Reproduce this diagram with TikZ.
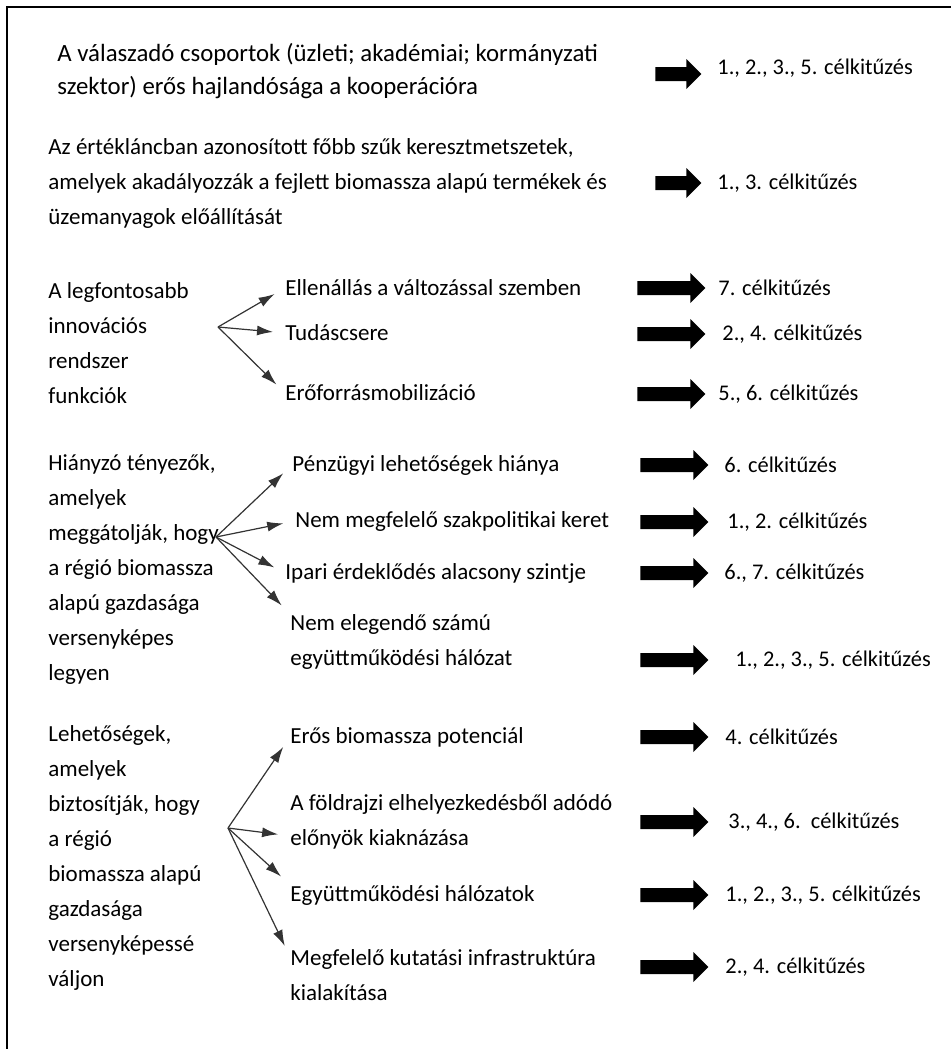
\documentclass[tikz,border=0pt]{standalone}
\usepackage{fontspec}
\setmainfont{Carlito}
\usetikzlibrary{arrows.meta,positioning,shapes.arrows,calc}

\begin{document}
\begin{tikzpicture}[
  x=0.5pt, y=-0.5pt,
  every node/.style={font=\fontsize{11.5}{17.5}\selectfont, inner sep=0pt},
  item/.style={anchor=west, align=left},
  goal/.style={anchor=west, font=\fontsize{11.2}{17}\selectfont},
  bigarrow/.style={single arrow, fill=black, draw=none, anchor=west,
    minimum height=34pt, minimum width=0pt, inner ysep=3.3pt, inner xsep=0pt,
    single arrow head extend=4pt, single arrow head indent=0pt,
    text height=0pt, text depth=0pt},
  branch/.style={-{Latex[length=8pt,width=5pt]}, line width=0.6pt, draw=black!80, shorten >=6pt}
]
  \useasboundingbox (0,0) rectangle (951,1049);
  \draw[line width=1pt] (7,1049) -- (7,7) -- (951,7);

  % first two statements
  \node[item, font=\fontsize{12.4}{16.5}\selectfont] (q1) at (57,71)
    {A válaszadó csoportok (üzleti; akadémiai; kormányzati\\szektor) erős hajlandósága a kooperációra};
  \node[bigarrow, minimum height=23pt] (a1) at (655,74) {};
  \node[goal] (g1) at (717,68) {1., 2., 3., 5. célkitűzés};

  \node[item] (q2) at (48,183)
    {Az értékláncban azonosított főbb szűk keresztmetszetek,\\amelyek akadályozzák a fejlett biomassza alapú termékek és\\üzemanyagok előállítását};
  \node[bigarrow, minimum height=23pt] (a2) at (655,183) {};
  \node[goal] (g2) at (717,183) {1., 3. célkitűzés};

  % innovation system functions
  \node[item] (f3) at (48,343) {A legfontosabb\\innovációs\\rendszer\\funkciók};
  \coordinate (b3) at (218,327);
  \node[item] (e31) at (285,288) {Ellenállás a változással szemben};
  \node[item] (e32) at (285,333) {Tudáscsere};
  \node[item] (e33) at (285,393) {Erőforrásmobilizáció};
  \node[bigarrow] (a31) at (637,288) {};
  \node[bigarrow] (a32) at (637,334) {};
  \node[bigarrow] (a33) at (637,394) {};
  \node[goal] (g31) at (718,288) {7. célkitűzés};
  \node[goal] (g32) at (722,334) {2., 4. célkitűzés};
  \node[goal] (g33) at (718,394) {5., 6. célkitűzés};
  \draw[branch] (b3) -- (e31.west);
  \draw[branch] (b3) -- (e32.west);
  \draw[branch] (b3) -- (e33.west);

  % missing factors
  \node[item] (f4) at (48,569)
    {Hiányzó tényezők,\\amelyek\\meggátolják, hogy\\a régió biomassza\\alapú gazdasága\\versenyképes\\legyen};
  \coordinate (b4) at (216,537);
  \node[item] (e41) at (292,465) {Pénzügyi lehetőségek hiánya};
  \node[item] (e42) at (295,521) {Nem megfelelő szakpolitikai keret};
  \node[item] (e43) at (285,573) {Ipari érdeklődés alacsony szintje};
  \node[item] (e44) at (290,642) {Nem elegendő számú\\együttműködési hálózat};
  \node[bigarrow] (a41) at (640,465) {};
  \node[bigarrow] (a42) at (640,522) {};
  \node[bigarrow] (a43) at (640,573) {};
  \node[bigarrow] (a44) at (640,660) {};
  \node[goal] (g41) at (724,465) {6. célkitűzés};
  \node[goal] (g42) at (727,522) {1., 2. célkitűzés};
  \node[goal] (g43) at (724,573) {6., 7. célkitűzés};
  \node[goal] (g44) at (735,660) {1., 2., 3., 5. célkitűzés};
  \draw[branch] (b4) -- (e41.west);
  \draw[branch] (b4) -- (e42.west);
  \draw[branch] (b4) -- (e43.west);
  \draw[branch] (b4) -- (e44.north west);

  % opportunities
  \node[item] (f5) at (48,858)
    {Lehetőségek,\\amelyek\\biztosítják, hogy\\a régió\\biomassza alapú\\gazdasága\\versenyképessé\\váljon};
  \coordinate (b5) at (228,828);
  \node[item] (e51) at (290,737) {Erős biomassza potenciál};
  \node[item] (e52) at (290,822) {A földrajzi elhelyezkedésből adódó\\előnyök kiaknázása};
  \node[item] (e53) at (290,895) {Együttműködési hálózatok};
  \node[item] (e54) at (290,975) {Megfelelő kutatási infrastruktúra\\kialakítása};
  \node[bigarrow] (a51) at (640,737) {};
  \node[bigarrow] (a52) at (640,822) {};
  \node[bigarrow] (a53) at (640,895) {};
  \node[bigarrow] (a54) at (640,967) {};
  \node[goal] (g51) at (725,737) {4. célkitűzés};
  \node[goal] (g52) at (728,822) {3., 4., 6.\ \ célkitűzés};
  \node[goal] (g53) at (725,895) {1., 2., 3., 5. célkitűzés};
  \node[goal] (g54) at (725,967) {2., 4. célkitűzés};
  \draw[branch] (b5) -- (e51.west);
  \draw[branch] (b5) -- ($(e52.west)!0.5!(e52.south west)$);
  \draw[branch] (b5) -- (e53.north west);
  \draw[branch] (b5) -- ($(e54.north west)!0.3!(e54.west)$);
\end{tikzpicture}
\end{document}
